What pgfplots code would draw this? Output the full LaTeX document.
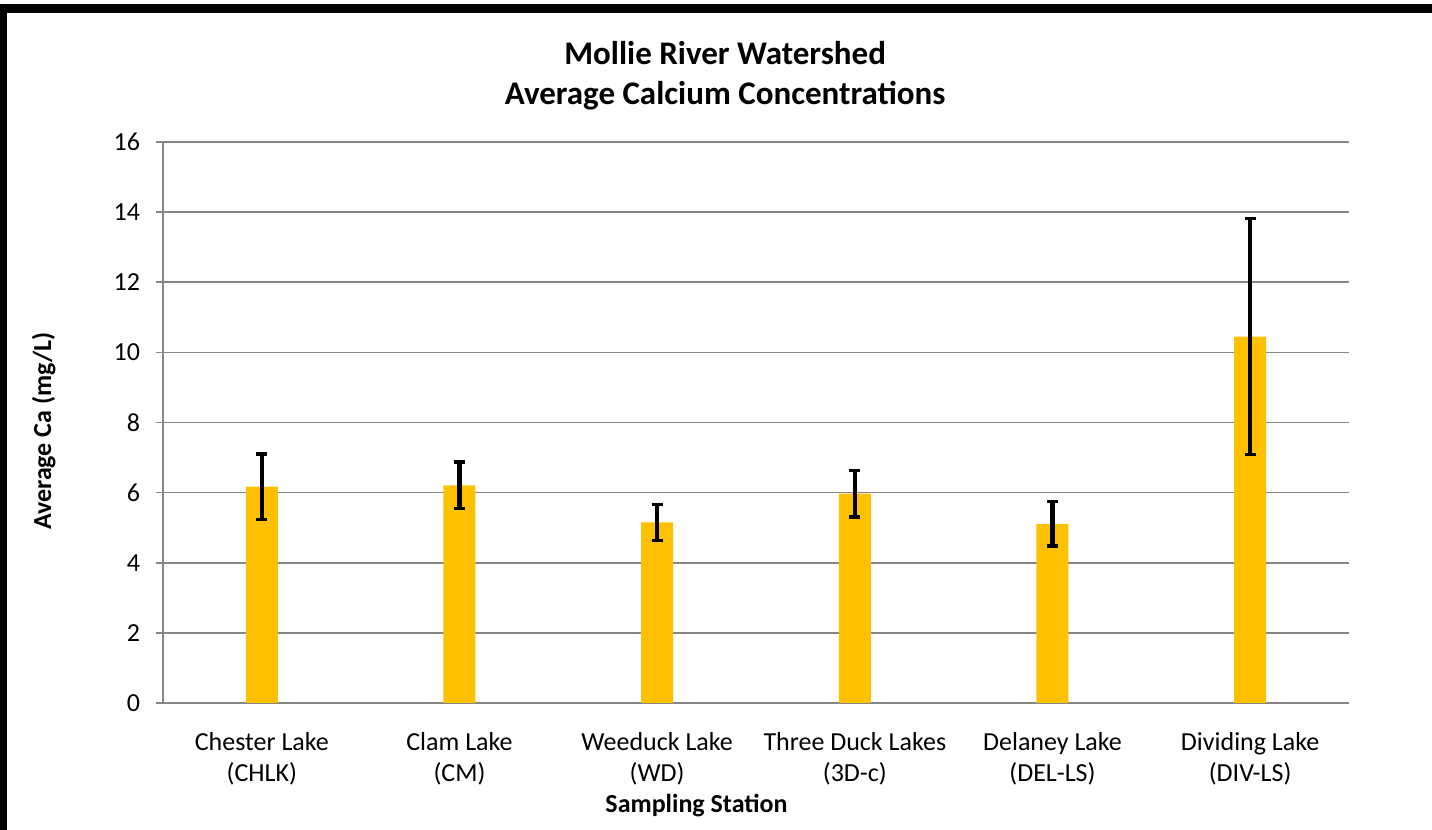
\documentclass[border=0pt]{standalone}
\usepackage{fontspec}
\setmainfont{Carlito}
\usepackage{pgfplots}
\pgfplotsset{compat=1.18}
\definecolor{barcol}{HTML}{FFC000}
\definecolor{gridcol}{RGB}{134,134,134}
\begin{document}
\begin{tikzpicture}
\useasboundingbox (-81.5pt,-63.5pt) rectangle (634.5pt,351.5pt);
\fill[black] (-81.5pt,345pt) rectangle (634.5pt,349.5pt);
\fill[black] (-81.5pt,-63.5pt) rectangle (-78pt,349.5pt);
\begin{axis}[
  at={(0,0)}, anchor=south west,
  scale only axis, width=593pt, height=280.5pt,
  xmin=-0.5, xmax=5.5, ymin=0, ymax=16,
  ytick={0,2,...,16},
  xtick={0,1,2,3,4,5},
  xticklabels={{Chester Lake\\(CHLK)},{Clam Lake\\(CM)},{Weeduck Lake\\(WD)},{Three Duck Lakes\\(3D-c)},{Delaney Lake\\(DEL-LS)},{Dividing Lake\\(DIV-LS)}},
  extra x ticks={-0.5,0.5,1.5,2.5,3.5,4.5,5.5},
  extra x tick labels={},
  extra x tick style={major tick length=3.5pt, tick style={gridcol, line width=0.85pt}, xmajorgrids=false},
  axis x line*=bottom, axis y line*=left,
  axis line style={gridcol, line width=0.85pt, -},
  ymajorgrids, major grid style={gridcol, line width=0.85pt},
  tick align=outside,
  x tick style={draw=none},
  y tick style={gridcol, line width=0.85pt},
  major tick length=3.5pt,
  /pgf/number format/assume math mode=true,
  tick label style={font=\fontsize{13}{15.6}\selectfont, black},
  yticklabel style={xshift=-4.5pt},
  xticklabel style={align=center, yshift=-7.5pt},
  title={Mollie River Watershed\\Average Calcium Concentrations},
  title style={font=\fontsize{16.5}{20}\selectfont\bfseries, align=center, at={(axis description cs:0.474,1.0463)}, anchor=base},
  xlabel={Sampling Station},
  xlabel style={font=\fontsize{13}{15.6}\selectfont\bfseries, at={(axis description cs:0.4498,-0.195)}, anchor=base},
  ylabel={Average Ca (mg/L)},
  ylabel style={font=\fontsize{13}{15.6}\selectfont\bfseries, at={(axis description cs:-0.0944,0.485)}, anchor=base, rotate=0},
  clip=false,
]
\addplot[ybar, bar width=16pt, fill=barcol, draw=none,
  error bars/.cd, y dir=both, y explicit,
  error mark=-,
  error bar style={draw=black, line width=2.2pt, line cap=butt},
  error mark options={rotate=90, draw=black, line width=1.7pt, line cap=butt, mark size=2.75pt}]
  coordinates {
  (0,6.17) +- (0,0.93)
  (1,6.21) +- (0,0.66)
  (2,5.15) +- (0,0.51)
  (3,5.97) +- (0,0.66)
  (4,5.11) +- (0,0.63)
  (5,10.45) +- (0,3.36)
  };
\end{axis}
\end{tikzpicture}
\end{document}
